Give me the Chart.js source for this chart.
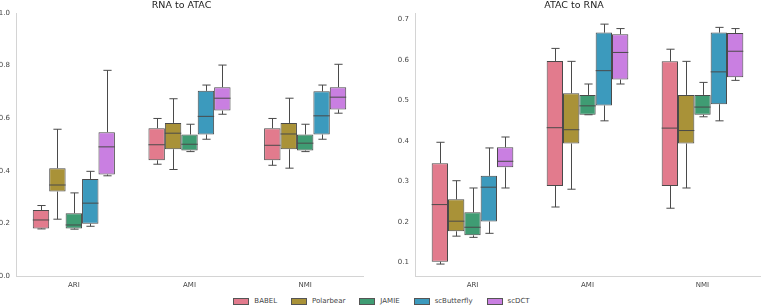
<!DOCTYPE html>
<html>
<head>
<meta charset="utf-8">
<script src="https://cdn.jsdelivr.net/npm/chart.js@4.4.1/dist/chart.umd.min.js"></script>
<style>
    html, body { margin: 0; padding: 0; background: #fff; }
    #wrap { position: relative; width: 763px; height: 307px; font-family: 'DejaVu Sans', sans-serif; }
    .panel { position: absolute; top: 0; height: 290px; }
    #legend { position: absolute; left: 0; top: 296px; width: 763px; display: flex; justify-content: center; gap: 14px; font-size: 7px; color: #444; line-height: 10px; }
    #legend span.item { display: flex; align-items: center; gap: 5px; }
    #legend span.swatch { display: inline-block; width: 14px; height: 5px; border: 1px solid #555; }
</style>
</head>
<body>
<div id="wrap">
    <div class="panel" style="left:0;width:366px;"><canvas id="rnaToAtacChart"></canvas></div>
    <div class="panel" style="left:388px;width:375px;"><canvas id="atacToRnaChart"></canvas></div>
    <div id="legend"></div>
</div>
<script>
// ---- data: each row is [whisker low, q1, median, q3, whisker high] for ARI, AMI, NMI ----
const categories = ['ARI', 'AMI', 'NMI'];
const methods = ['BABEL', 'Polarbear', 'JAMIE', 'scButterfly', 'scDCT'];
const methodColors = ['#e27b8d', '#a99238', '#3f9c73', '#3c9abd', '#c97fe1'];

// RNA to ATAC
const r2aBABEL = [[0.179, 0.181, 0.213, 0.251, 0.268], [0.425, 0.440, 0.499, 0.562, 0.599], [0.421, 0.440, 0.497, 0.562, 0.599]];
const r2aPolarbear = [[0.216, 0.321, 0.346, 0.410, 0.558], [0.405, 0.482, 0.543, 0.582, 0.674], [0.410, 0.482, 0.540, 0.582, 0.676]];
const r2aJAMIE = [[0.178, 0.181, 0.194, 0.239, 0.316], [0.473, 0.477, 0.501, 0.538, 0.577], [0.473, 0.477, 0.505, 0.538, 0.577]];
const r2aScButterfly = [[0.189, 0.199, 0.277, 0.369, 0.398], [0.520, 0.538, 0.607, 0.704, 0.726], [0.520, 0.538, 0.609, 0.702, 0.726]];
const r2aScDCT = [[0.381, 0.386, 0.491, 0.547, 0.782], [0.615, 0.629, 0.676, 0.718, 0.802], [0.619, 0.633, 0.680, 0.718, 0.805]];
const r2aTicks = [0.0, 0.2, 0.4, 0.6, 0.8, 1.0];

// ATAC to RNA
const a2rBABEL = [[0.096, 0.102, 0.243, 0.345, 0.397], [0.237, 0.289, 0.433, 0.598, 0.629], [0.234, 0.289, 0.432, 0.597, 0.627]];
const a2rPolarbear = [[0.165, 0.177, 0.202, 0.256, 0.302], [0.281, 0.394, 0.428, 0.518, 0.597], [0.284, 0.394, 0.426, 0.514, 0.597]];
const a2rJAMIE = [[0.162, 0.167, 0.187, 0.224, 0.284], [0.465, 0.465, 0.487, 0.514, 0.541], [0.460, 0.465, 0.484, 0.514, 0.545]];
const a2rScButterfly = [[0.172, 0.201, 0.286, 0.314, 0.383], [0.450, 0.488, 0.574, 0.668, 0.689], [0.450, 0.491, 0.571, 0.668, 0.681]];
const a2rScDCT = [[0.284, 0.335, 0.350, 0.385, 0.410], [0.541, 0.552, 0.619, 0.664, 0.678], [0.550, 0.558, 0.622, 0.667, 0.678]];
const a2rTicks = [0.1, 0.2, 0.3, 0.4, 0.5, 0.6, 0.7];

const EDGE = '#4a4a4a';
const FONT = 'DejaVu Sans';

// draws whiskers, caps and medians on top of the floating bars (boxes)
const boxWhiskers = {
    id: 'boxWhiskers',
    afterDatasetsDraw(chart) {
        const { ctx } = chart;
        const y = chart.scales.y;
        ctx.save();
        ctx.strokeStyle = EDGE;
        ctx.lineWidth = 1;
        chart.data.datasets.forEach((ds, i) => {
            const meta = chart.getDatasetMeta(i);
            meta.data.forEach((bar, j) => {
                const [lo, q1, med, q3, hi] = ds.stats[j];
                const x = Math.round(bar.x) + 0.5;
                const half = bar.width / 2;
                const cap = bar.width / 4;
                const line = (x1, y1, x2, y2) => {
                    ctx.beginPath();
                    ctx.moveTo(x1, y1);
                    ctx.lineTo(x2, y2);
                    ctx.stroke();
                };
                line(x, y.getPixelForValue(q3), x, y.getPixelForValue(hi));
                line(x, y.getPixelForValue(q1), x, y.getPixelForValue(lo));
                line(x - cap, y.getPixelForValue(hi), x + cap, y.getPixelForValue(hi));
                line(x - cap, y.getPixelForValue(lo), x + cap, y.getPixelForValue(lo));
                line(bar.x - half, y.getPixelForValue(med), bar.x + half, y.getPixelForValue(med));
            });
        });
        ctx.restore();
    }
};

function renderBoxPanel(canvasId, title, statsList, ticks, yMin, yMax, axisWidth) {
    const ctx = document.getElementById(canvasId);
    if (!ctx) return;
    new Chart(ctx, {
        type: 'bar',
        data: {
            labels: categories,
            datasets: methods.map((name, i) => ({
                label: name,
                stats: statsList[i],
                data: statsList[i].map(s => [s[1], s[3]]),
                backgroundColor: methodColors[i],
                borderColor: EDGE, borderWidth: 1, borderSkipped: false,
                categoryPercentage: 0.71, barPercentage: 1.0,
            }))
        },
        options: {
            responsive: true, maintainAspectRatio: false, animation: false,
            layout: { padding: { left: 0, right: 3, top: 0, bottom: 0 } },
            plugins: {
                legend: { display: false }, tooltip: { enabled: false },
                title: { display: true, text: title, color: '#222', font: { family: FONT, size: 9.5, weight: 'normal' }, padding: { top: 0, bottom: 1.6 } }
            },
            scales: {
                x: {
                    grid: { display: false, drawTicks: false },
                    border: { display: true, color: '#d4d4d4' },
                    ticks: { color: '#444', font: { family: FONT, size: 7 }, padding: 5 },
                    afterFit: s => { s.height = 14; }
                },
                y: {
                    min: yMin, max: yMax,
                    grid: { display: false, drawTicks: false },
                    border: { display: true, color: '#d4d4d4' },
                    ticks: { color: '#444', font: { family: FONT, size: 7 }, padding: 6, callback: v => Number(v).toFixed(1) },
                    afterBuildTicks: s => { s.ticks = ticks.map(v => ({ value: v })); },
                    afterFit: s => { s.width = axisWidth; }
                }
            }
        },
        plugins: [boxWhiskers]
    });
}

function renderLegend() {
    document.getElementById('legend').innerHTML = methods.map((m, i) =>
        `<span class="item"><span class="swatch" style="background:${methodColors[i]}"></span>${m}</span>`
    ).join('');
}

renderBoxPanel('rnaToAtacChart', 'RNA to ATAC',
    [r2aBABEL, r2aPolarbear, r2aJAMIE, r2aScButterfly, r2aScDCT], r2aTicks, 0, 1, 16);
renderBoxPanel('atacToRnaChart', 'ATAC to RNA',
    [a2rBABEL, a2rPolarbear, a2rJAMIE, a2rScButterfly, a2rScDCT], a2rTicks, 0.0665, 0.7165, 27);
renderLegend();
</script>
</body>
</html>
